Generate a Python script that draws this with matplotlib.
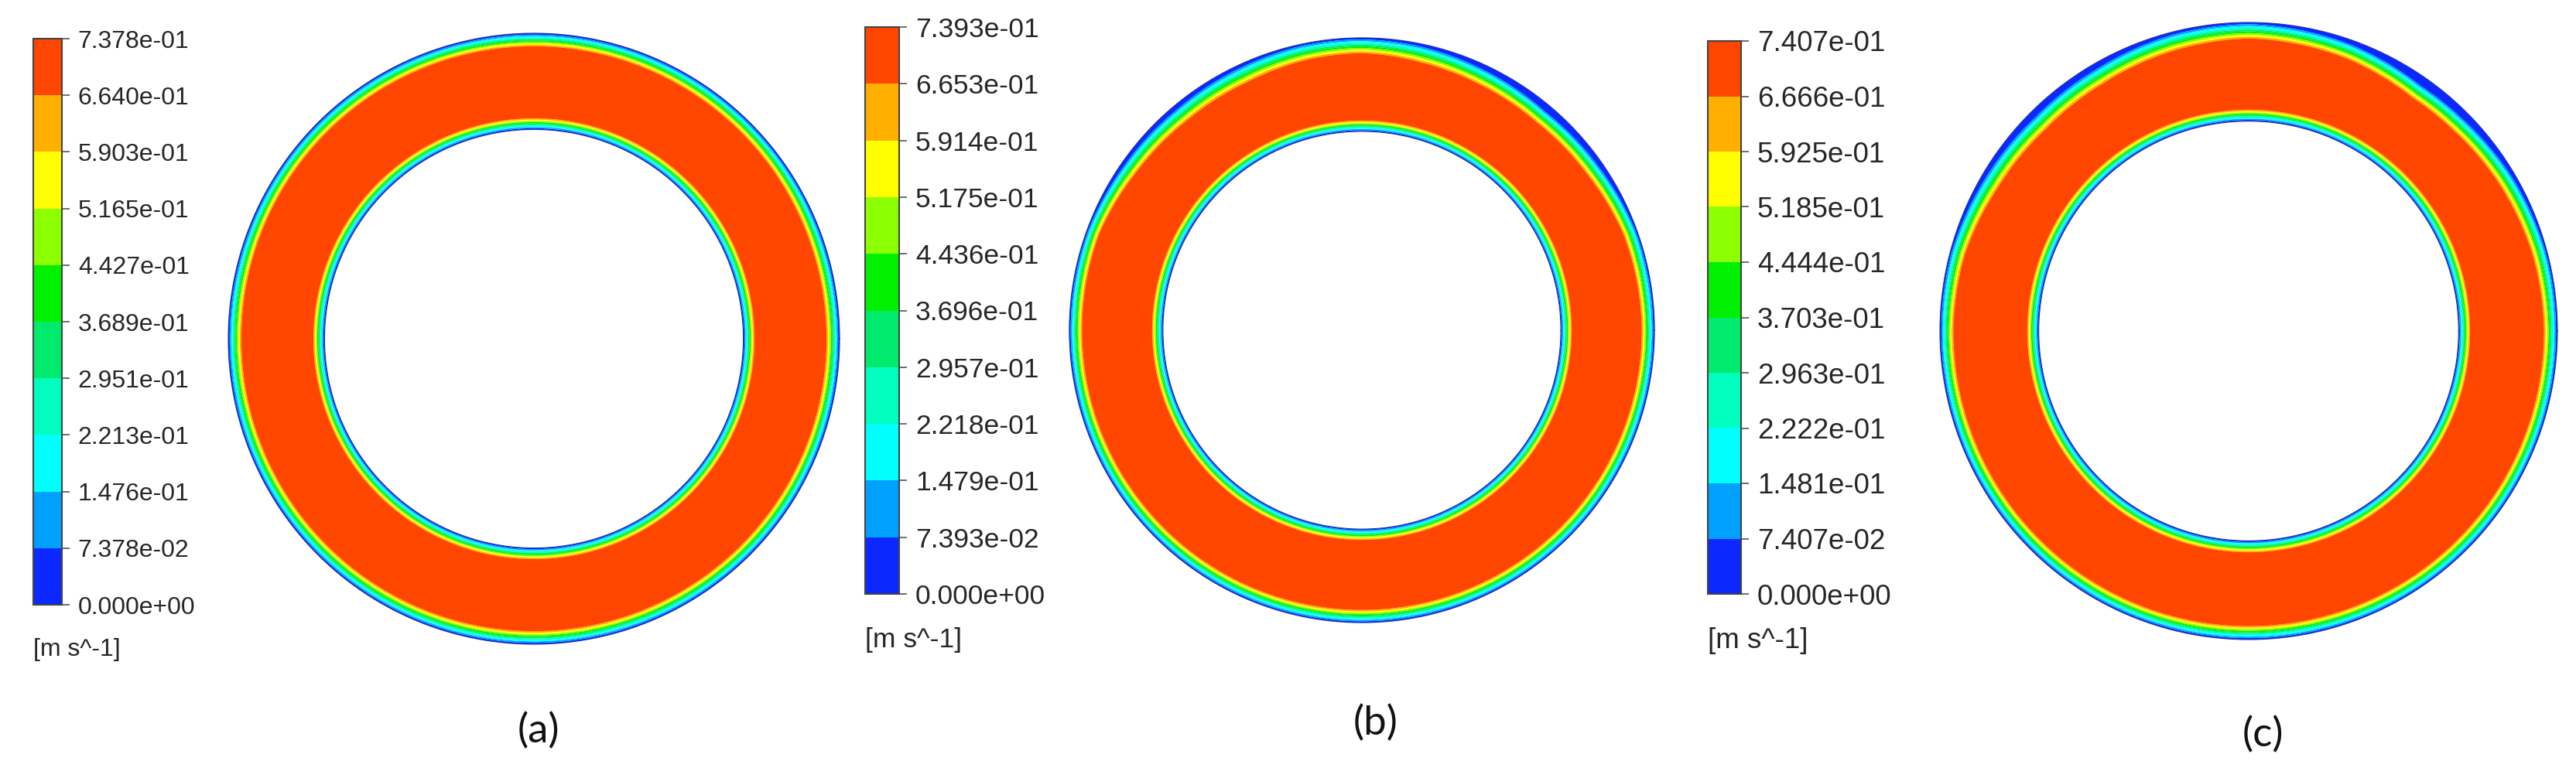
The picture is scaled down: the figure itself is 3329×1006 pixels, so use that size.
import numpy as np
import matplotlib
matplotlib.use("Agg")
import matplotlib.pyplot as plt
from matplotlib.colors import ListedColormap, BoundaryNorm
from matplotlib.cm import ScalarMappable

plt.rcParams["font.family"] = ["Liberation Sans", "DejaVu Sans"]

W, H = 3330, 1006

# Fluent-style 10 band palette (low -> high)
band_colors = ["#0a28ff", "#00a0ff", "#00ffff", "#00ffbe", "#00eb6e",
               "#00f000", "#8cff00", "#ffff00", "#ffaf00", "#ff4600"]

panel_names = ["(a)", "(b)", "(c)"]
levels_a = [0.0, 0.07378, 0.1476, 0.2213, 0.2951, 0.3689, 0.4427, 0.5165, 0.5903, 0.6640, 0.7378]
levels_b = [0.0, 0.07393, 0.1479, 0.2218, 0.2957, 0.3696, 0.4436, 0.5175, 0.5914, 0.6653, 0.7393]
levels_c = [0.0, 0.07407, 0.1481, 0.2222, 0.2963, 0.3703, 0.4444, 0.5185, 0.5925, 0.6666, 0.7407]
unit_label = "[m s^-1]"

# radial velocity profile near a wall: distance (fraction of gap) -> u/umax
wall_dist = [0.0, 0.015, 0.03, 0.045, 0.06, 0.075, 0.09, 0.105, 0.12, 0.135, 0.2, 0.5]
vel_frac = [0.0, 0.1, 0.2, 0.3, 0.4, 0.5, 0.6, 0.7, 0.8, 0.9, 0.96, 0.98]

# inner/outer radius ratio of each annulus
inner_ratio = [0.685, 0.68, 0.68]

# outer-wall layer versus angle (deg, periodic): stretch of the profile and
# thickness of the stagnant (blue) rim, as fraction of the gap
theta_a = [0, 180]
stretch_a = [1.0, 1.0]
rim_a = [0.0, 0.0]

theta_b = [0, 20, 35, 50, 65, 78, 90, 102, 115, 130, 145, 160, 180, 270]
stretch_b = [1.0, 1.1, 1.2, 1.2, 1.3, 1.35, 1.2, 1.3, 1.4, 1.3, 1.2, 1.0, 1.0, 1.0]
rim_b = [0.0, 0.0, 0.035, 0.06, 0.035, 0.01, 0.0, 0.0, 0.015, 0.03, 0.02, 0.0, 0.0, 0.0]

theta_c = [0, 15, 30, 45, 55, 70, 90, 105, 120, 135, 150, 165, 180, 270]
stretch_c = [1.0, 1.1, 1.2, 1.2, 1.2, 1.2, 1.2, 1.3, 1.3, 1.3, 1.3, 1.1, 1.0, 1.0]
rim_c = [0.0, 0.0, 0.02, 0.06, 0.075, 0.03, 0.0, 0.01, 0.04, 0.05, 0.025, 0.0, 0.0, 0.0]


def px(x, y, w, h):
    return [x / W, 1 - (y + h) / H, w / W, h / H]


def draw_panel(fig, cbar_box, ring_box, levels, ratio, th_deg, stretch, rim,
               fs, unit_y, name, name_xy):
    cmap = ListedColormap(band_colors)
    norm = BoundaryNorm(levels, cmap.N)

    ax = fig.add_axes(px(*ring_box))
    rho = np.linspace(ratio, 1.0, 500)
    th = np.linspace(0, 2 * np.pi, 1441)
    RR, TT = np.meshgrid(rho, th)
    gap = 1 - ratio
    deg = np.degrees(TT)
    so = np.interp(deg, th_deg, stretch, period=360)
    off = np.interp(deg, th_deg, rim, period=360)
    d_out = np.clip((1 - RR) / gap - off, 0, None) / so
    d_in = (RR - ratio) / gap / 0.85
    u = np.minimum(np.interp(d_out, wall_dist, vel_frac),
                   np.interp(d_in, wall_dist, vel_frac)) * levels[-1]
    ax.contourf(RR * np.cos(TT), RR * np.sin(TT), u, levels=levels,
                cmap=cmap, norm=norm, antialiased=True)
    t = np.linspace(0, 2 * np.pi, 721)
    for rr in (ratio, 1.0):
        ax.plot(rr * np.cos(t), rr * np.sin(t), color="#2436a8", lw=0.8)
    ax.set_xlim(-1.005, 1.005)
    ax.set_ylim(-1.005, 1.005)
    ax.set_aspect("equal")
    ax.axis("off")

    cax = fig.add_axes(px(*cbar_box))
    cb = fig.colorbar(ScalarMappable(norm=norm, cmap=cmap), cax=cax, ticks=levels)
    cb.ax.set_yticklabels(["%.3e" % v for v in levels])
    cb.ax.tick_params(length=7, width=1.2, color="#555555", pad=8,
                      labelsize=fs, labelcolor="#262626")
    cb.outline.set_edgecolor("#444444")
    cb.outline.set_linewidth(1.5)

    fig.text(cbar_box[0] / W, 1 - unit_y / H, unit_label, ha="left", va="center",
             fontsize=fs, color="#262626")
    fig.text(name_xy[0] / W, 1 - name_xy[1] / H, name, ha="center", va="center",
             fontsize=38, family=["Lato", "DejaVu Sans"], color="#111111")


fig = plt.figure(figsize=(W / 100, H / 100), dpi=100)

draw_panel(fig, (43, 50, 37, 732), (293, 41, 794, 794), levels_a, inner_ratio[0],
           theta_a, stretch_a, rim_a, 23, 840, panel_names[0], (696, 945))
draw_panel(fig, (1118, 35, 44, 733), (1380, 47, 760, 760), levels_b, inner_ratio[1],
           theta_b, stretch_b, rim_b, 25.5, 828, panel_names[1], (1778, 935))
draw_panel(fig, (2207, 53, 43, 715), (2505, 27, 802, 802), levels_c, inner_ratio[2],
           theta_c, stretch_c, rim_c, 26.5, 828, panel_names[2], (2924, 950))

fig.savefig("out.png", dpi=100, facecolor="white")
